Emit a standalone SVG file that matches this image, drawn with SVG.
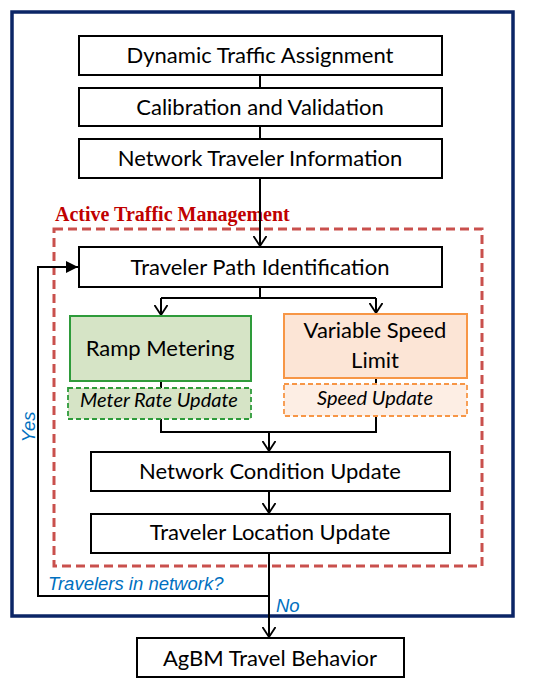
<svg xmlns="http://www.w3.org/2000/svg" width="550" height="685" viewBox="0 0 550 685">
<style>
.box{fill:#fff;stroke:#000;stroke-width:2}
.t{font-family:Lato,"Noto Sans",sans-serif;font-size:22px;fill:#000;text-anchor:middle}
.ti{font-family:Lato,"Noto Sans",sans-serif;font-size:20px;font-style:italic;fill:#000;text-anchor:middle}
.lbl{font-family:"Liberation Sans",Arial,sans-serif;font-style:italic;fill:#0070c0;font-size:18.5px}
.c{fill:none;stroke:#000;stroke-width:2}
</style>
<defs>
<marker id="open" viewBox="0 0 10 14" refX="10" refY="7" markerWidth="10" markerHeight="14" markerUnits="userSpaceOnUse" orient="auto">
<path d="M0,0.5 L10,7 L0,13.5" fill="none" stroke="#000" stroke-width="1.8"/>
</marker>
<marker id="solid" viewBox="0 0 12 12" refX="12" refY="6" markerWidth="12" markerHeight="12" markerUnits="userSpaceOnUse" orient="auto">
<path d="M0,0 L12,6 L0,12 Z" fill="#000"/>
</marker>
</defs>
<rect width="550" height="685" fill="#fff"/>
<g id="frame"><rect x="12" y="12" width="501" height="604" fill="none" stroke="#0b2566" stroke-width="3.5"/></g>
<g id="atm">
<rect x="54" y="229" width="428" height="337" fill="none" stroke="#c9504d" stroke-width="3" stroke-dasharray="9,5"/>
<text x="55" y="221" font-family="'Liberation Serif','Times New Roman',serif" font-weight="bold" font-size="20" fill="#c00000">Active Traffic Management</text>
</g>
<g id="connectors">
<path class="c" d="M260,75 V88 M260,126 V139"/>
<path class="c" d="M260,178 V246" marker-end="url(#open)"/>
<path class="c" d="M260,287 V298 M161,298 H376"/>
<path class="c" d="M161,298 V315" marker-end="url(#open)"/>
<path class="c" d="M376,298 V313" marker-end="url(#open)"/>
<path class="c" d="M161,381 V388 M376,378 V384"/>
<path class="c" d="M161,419 V432 H376 V416"/>
<path class="c" d="M269,432 V451" marker-end="url(#open)"/>
<path class="c" d="M269,491 V513" marker-end="url(#open)"/>
<path class="c" d="M269,553 V637" marker-end="url(#open)"/>
<path class="c" d="M269,596 H38 V267 H78" marker-end="url(#solid)"/>
</g>
<g id="dta"><rect class="box" x="79" y="36" width="363" height="39"/><text class="t" x="260" y="63">Dynamic Traffic Assignment</text></g>
<g id="calib"><rect class="box" x="79" y="88" width="363" height="38"/><text class="t" x="260" y="115">Calibration and Validation</text></g>
<g id="nti"><rect class="box" x="79" y="139" width="363" height="39"/><text class="t" x="260" y="166">Network Traveler Information</text></g>
<g id="tpi"><rect class="box" x="79" y="247" width="363" height="40"/><text class="t" x="260" y="275">Traveler Path Identification</text></g>
<g id="ramp"><rect x="70" y="316" width="181" height="65" fill="#d6e4c6" stroke="#2e9b3a" stroke-width="2"/><text class="t" x="160" y="356">Ramp Metering</text></g>
<g id="meter"><rect x="68" y="388" width="183" height="31" fill="#d6e4c6" stroke="#2e9b3a" stroke-width="1.8" stroke-dasharray="5,3"/><text class="ti" x="159" y="407">Meter Rate Update</text></g>
<g id="vsl"><rect x="284" y="314" width="183" height="64" fill="#fce5d6" stroke="#f79646" stroke-width="2"/><text class="t" x="375" y="338">Variable Speed</text><text class="t" x="375" y="368">Limit</text></g>
<g id="speed"><rect x="284" y="384" width="183" height="32" fill="#fdeee4" stroke="#f79646" stroke-width="1.8" stroke-dasharray="5,3"/><text class="ti" x="375" y="405">Speed Update</text></g>
<g id="ncu"><rect class="box" x="91" y="452" width="359" height="39"/><text class="t" x="270" y="479">Network Condition Update</text></g>
<g id="tlu"><rect class="box" x="91" y="514" width="359" height="39"/><text class="t" x="270" y="540">Traveler Location Update</text></g>
<g id="agbm"><rect class="box" x="137" y="638" width="267" height="39"/><text class="t" x="270" y="666">AgBM Travel Behavior</text></g>
<g id="labels">
<text class="lbl" x="48" y="590">Travelers in network?</text>
<text class="lbl" x="276" y="612">No</text>
<text class="lbl" transform="translate(35,427) rotate(-90)" text-anchor="middle" font-size="18">Yes</text>
</g>
</svg>
